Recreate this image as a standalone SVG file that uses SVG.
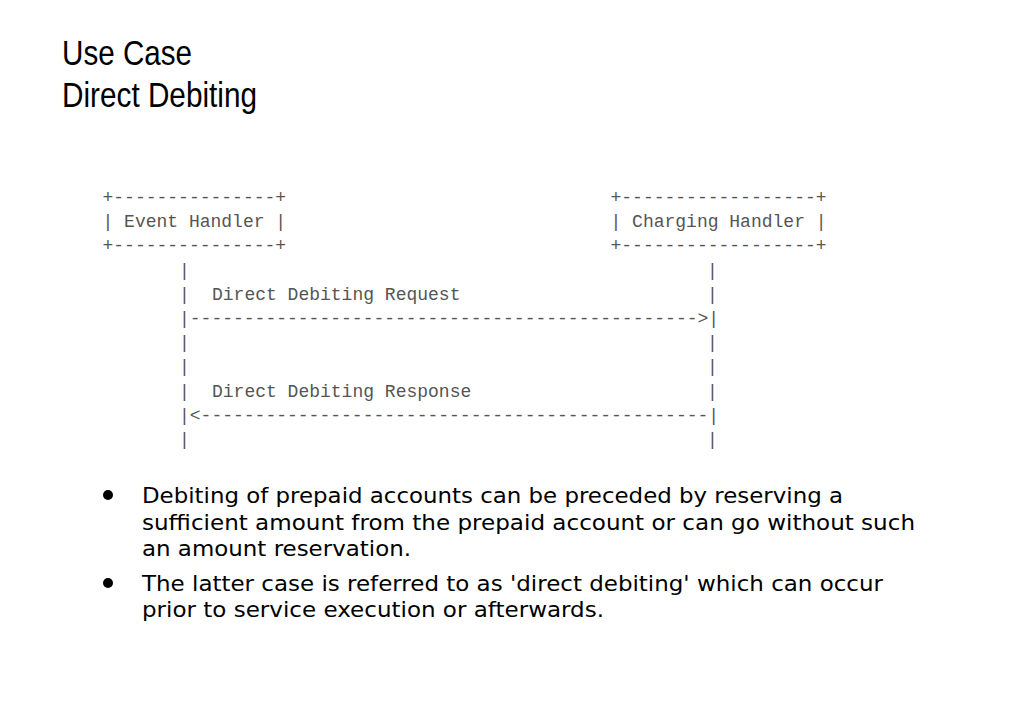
<svg xmlns="http://www.w3.org/2000/svg" width="1023" height="708" viewBox="0 0 1023 708">
<style>
.t{font-family:"Liberation Sans",Arial,sans-serif;font-size:35px;fill:#000}
.m{font-family:"Liberation Mono","Courier New",monospace;font-size:18px;fill:#555}
.b{font-family:"DejaVu Sans","Noto Sans",sans-serif;font-size:22px;fill:#000}
</style>
<rect width="1023" height="708" fill="#fff"/>
<g id="title">
<text class="t" x="62" y="65" textLength="130" lengthAdjust="spacingAndGlyphs">Use Case</text>
<text class="t" x="62" y="107" textLength="195" lengthAdjust="spacingAndGlyphs">Direct Debiting</text>
</g>
<g id="event-handler">
<text class="m" x="102.5" y="203">+---------------+</text>
<text class="m" x="102.5" y="227">| Event Handler |</text>
<text class="m" x="102.5" y="251">+---------------+</text>
</g>
<g id="charging-handler">
<text class="m" x="610.5" y="203">+------------------+</text>
<text class="m" x="610.5" y="227">| Charging Handler |</text>
<text class="m" x="610.5" y="251">+------------------+</text>
</g>
<g id="connectors">
<text class="m" x="179" y="276">|</text><text class="m" x="707" y="276">|</text>
<text class="m" x="179" y="300">|</text><text class="m" x="212" y="300">Direct Debiting Request</text><text class="m" x="707" y="300">|</text>
<text class="m" x="179" y="324">|----------------------------------------------->|</text>
<text class="m" x="179" y="348">|</text><text class="m" x="707" y="348">|</text>
<text class="m" x="179" y="372">|</text><text class="m" x="707" y="372">|</text>
<text class="m" x="179" y="397">|</text><text class="m" x="212" y="397">Direct Debiting Response</text><text class="m" x="707" y="397">|</text>
<text class="m" x="179" y="421">|&lt;-----------------------------------------------|</text>
<text class="m" x="179" y="445">|</text><text class="m" x="707" y="445">|</text>
</g>
<g id="bullets">
<circle cx="108" cy="495" r="5" fill="#000"/>
<text class="b" x="142" y="503" textLength="701" lengthAdjust="spacingAndGlyphs">Debiting of prepaid accounts can be preceded by reserving a</text>
<text class="b" x="142" y="530" textLength="773" lengthAdjust="spacingAndGlyphs">sufficient amount from the prepaid account or can go without such</text>
<text class="b" x="142" y="556" textLength="269" lengthAdjust="spacingAndGlyphs">an amount reservation.</text>
<circle cx="108" cy="583" r="5" fill="#000"/>
<text class="b" x="142" y="591" textLength="741" lengthAdjust="spacingAndGlyphs">The latter case is referred to as 'direct debiting' which can occur</text>
<text class="b" x="142" y="617" textLength="462" lengthAdjust="spacingAndGlyphs">prior to service execution or afterwards.</text>
</g>
</svg>
